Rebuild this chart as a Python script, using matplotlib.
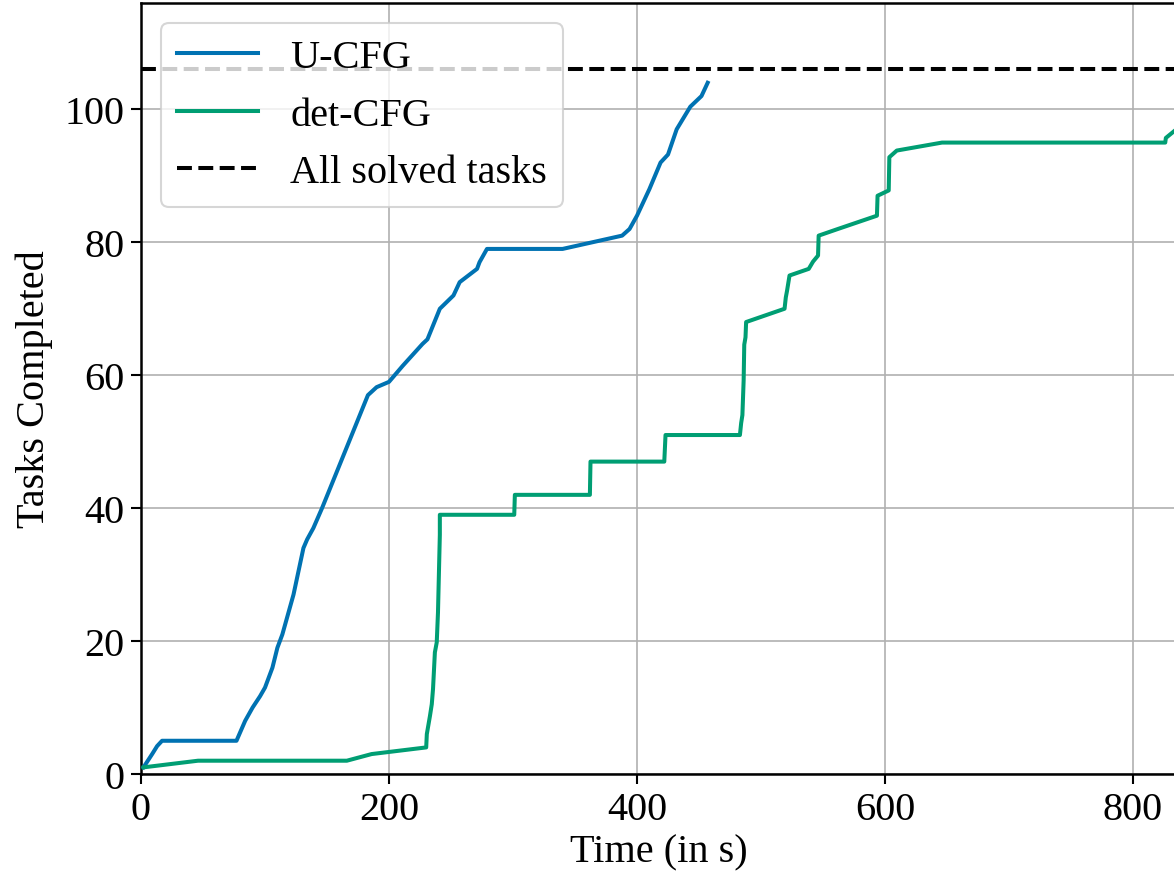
import matplotlib
matplotlib.use("Agg")
import matplotlib.pyplot as plt

# ---------------- data ----------------
ucfg_time = [2, 9, 13, 17, 77, 84, 90, 96, 100, 106, 110, 114, 117, 123, 131, 134, 139, 146,
             183, 190, 200, 211, 227, 231, 241, 252, 257, 271, 273, 279, 340, 388, 394, 400,
             410, 419, 425, 432, 443, 452, 457]
ucfg_tasks = [1, 3, 4.2, 5, 5, 8, 10, 11.7, 13, 16, 19, 21, 23, 27, 34, 35.3, 37, 40,
              57, 58.2, 59, 61.4, 64.7, 65.4, 70, 72, 74, 76, 77, 79, 79, 81, 82, 84,
              88, 92, 93.2, 97, 100.4, 102, 104]

det_time = [2, 46, 166, 186, 230, 230.5, 233, 234.5, 235.5, 237, 238.5, 239.5, 241, 241,
            301, 301.5, 362, 362.5, 422, 423, 483, 484, 485, 486, 486.5, 487.5, 488,
            519, 520, 521, 523, 538.5, 542, 546, 546.5, 562, 593.5, 594, 603, 603.5,
            609.5, 646, 826, 826.5, 835, 845]
det_tasks = [1, 2, 2, 3, 4, 6, 8.7, 10.5, 12.8, 18.3, 19.8, 24.3, 36, 39,
             39, 42, 42, 47, 47, 51, 51, 52.8, 54, 59.2, 64.6, 65.7, 68,
             70, 71.7, 72.7, 75, 76, 77.1, 78, 81, 82, 84, 87, 87.8, 92.8,
             93.8, 95, 95, 95.7, 97, 98]

all_solved = 106
series_labels = ["U-CFG", "det-CFG", "All solved tasks"]
x_label = "Time (in s)"
y_label = "Tasks Completed"

# ---------------- style ----------------
plt.rcParams["font.family"] = ["Liberation Serif", "DejaVu Serif"]
plt.rcParams["font.size"] = 29
plt.rcParams["mathtext.fontset"] = "stix"

W, H = 1174, 879
fig = plt.figure(figsize=(W / 100, H / 100), dpi=100)

x0_px, y0_px, ytop_px = 141, 775, 4
xmax = 835
px_per_x = 1.24
ax_w_px = xmax * px_per_x
ax = fig.add_axes([x0_px / W, (H - y0_px) / H, ax_w_px / W, (y0_px - ytop_px) / H])

blue = "#0072B2"
green = "#009E73"
lw = 2.9

ax.plot(ucfg_time, ucfg_tasks, color=blue, lw=lw, label=series_labels[0], zorder=3)
ax.plot(det_time, det_tasks, color=green, lw=lw, label=series_labels[1], zorder=3)
ax.axhline(all_solved, color="black", ls="--", lw=lw, label=series_labels[2], zorder=3)

ax.set_xlim(0, xmax)
ax.set_ylim(0, 116)
ax.set_xticks([0, 200, 400, 600, 800])
ax.set_yticks([0, 20, 40, 60, 80, 100])

ax.grid(True, color="#b0b0b0", lw=1.2)
ax.set_axisbelow(True)
for s in ax.spines.values():
    s.set_linewidth(1.8)
ax.tick_params(direction="out", length=7, width=1.5, labelsize=29, pad=5)

ax.set_xlabel(x_label, fontsize=29, labelpad=4)
ax.set_ylabel(y_label, fontsize=29, labelpad=8)

leg = ax.legend(loc="upper left", fontsize=29, framealpha=0.8, edgecolor="#cccccc",
                handlelength=2.0, borderpad=0.4, labelspacing=0.5)
leg.get_frame().set_linewidth(1.5)

fig.savefig("out.png", dpi=100)
